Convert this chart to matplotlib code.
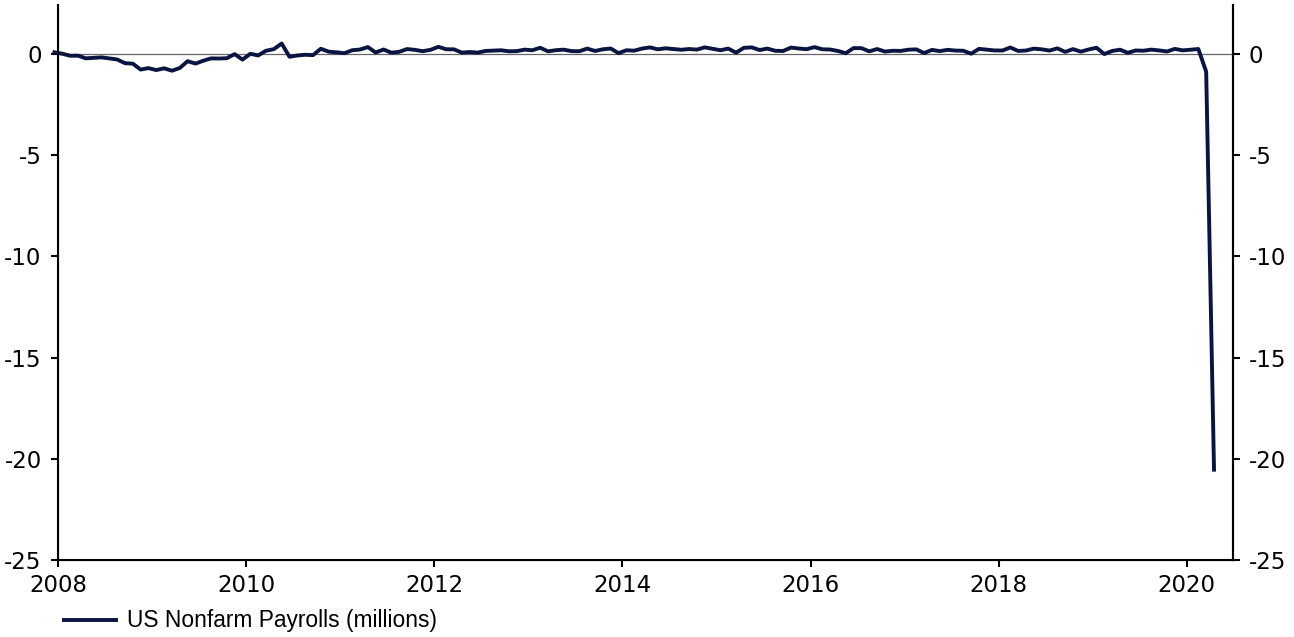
import matplotlib.pyplot as plt
import pandas as pd
import numpy as np

# Monthly change in US nonfarm payrolls, thousands (Dec 2007 - Apr 2020)
nfp_2007 = [87]
nfp_2008 = [17, -84, -78, -210, -186, -162, -213, -267, -450, -474, -766, -694]
nfp_2009 = [-791, -703, -823, -686, -351, -470, -329, -213, -220, -204, -2, -275]
nfp_2010 = [14, -68, 164, 243, 522, -133, -70, -34, -52, 262, 119, 87]
nfp_2011 = [43, 189, 225, 346, 77, 225, 69, 110, 248, 209, 141, 209]
nfp_2012 = [358, 237, 233, 70, 102, 71, 153, 172, 188, 138, 144, 219]
nfp_2013 = [190, 311, 135, 192, 218, 146, 140, 271, 153, 236, 274, 45]
nfp_2014 = [187, 168, 272, 330, 236, 286, 249, 213, 250, 221, 331, 260]
nfp_2015 = [190, 271, 70, 309, 331, 199, 271, 163, 152, 320, 275, 241]
nfp_2016 = [343, 237, 225, 153, 43, 297, 291, 135, 249, 124, 164, 155]
nfp_2017 = [216, 232, 50, 207, 145, 210, 173, 164, 18, 257, 217, 179]
nfp_2018 = [176, 324, 155, 175, 268, 235, 173, 282, 108, 245, 120, 227]
nfp_2019 = [312, 1, 153, 216, 62, 178, 166, 219, 180, 128, 256, 184]
nfp_2020 = [214, 251, -870, -20537]

values = (nfp_2007 + nfp_2008 + nfp_2009 + nfp_2010 + nfp_2011 + nfp_2012 + nfp_2013
          + nfp_2014 + nfp_2015 + nfp_2016 + nfp_2017 + nfp_2018 + nfp_2019 + nfp_2020)
dates = pd.date_range("2007-12-01", periods=len(values), freq="MS")
# place each month at its middle
t = dates.year + (dates.month - 0.5) / 12.0
payrolls = np.array(values) / 1000.0

year_ticks = [2008, 2010, 2012, 2014, 2016, 2018, 2020]
y_ticks = [0, -5, -10, -15, -20, -25]

line_color = "#0a1440"
tick_font = "DejaVu Sans"
tick_size = 16.5

fig = plt.figure(figsize=(12.94, 6.37), dpi=100)
ax = fig.add_axes([0.0451, 0.1209, 0.9075, 0.8711])

ax.axhline(0, color="#666666", linewidth=0.9, zorder=1)
ax.plot(t, payrolls, color=line_color, linewidth=2.8, label="US Nonfarm Payrolls (millions)",
        zorder=3, solid_joinstyle="round", clip_on=False)

ax.set_xlim(2008, 2020.49)
ax.set_ylim(-25, 2.42)
ax.set_xticks(year_ticks)
ax.set_xticklabels([str(y) for y in year_ticks], fontsize=tick_size, family=tick_font)
ax.set_yticks(y_ticks)
ax.set_yticklabels([str(v) for v in y_ticks], fontsize=tick_size, family=tick_font)
ax.tick_params(axis="x", direction="out", length=5, width=1.5, pad=5)
ax.tick_params(axis="y", direction="out", length=5, width=1.5, pad=7)
ax.spines["top"].set_visible(False)
for s in ["left", "right", "bottom"]:
    ax.spines[s].set_linewidth(1.5)

ax2 = ax.twinx()
ax2.set_ylim(ax.get_ylim())
ax2.set_yticks(y_ticks)
ax2.set_yticklabels([str(v) for v in y_ticks], fontsize=tick_size, family=tick_font)
ax2.tick_params(direction="out", length=5, width=1.5, pad=6.5)
ax2.spines["top"].set_visible(False)
ax2.spines["right"].set_linewidth(1.5)

fig.legend(loc="center left", bbox_to_anchor=(55 / 1294, 1 - 621 / 637), borderaxespad=0,
           frameon=False, prop={"family": "Liberation Sans", "size": 16.4},
           handlelength=2.28, handletextpad=0.47)

fig.savefig("out.png", dpi=100)
